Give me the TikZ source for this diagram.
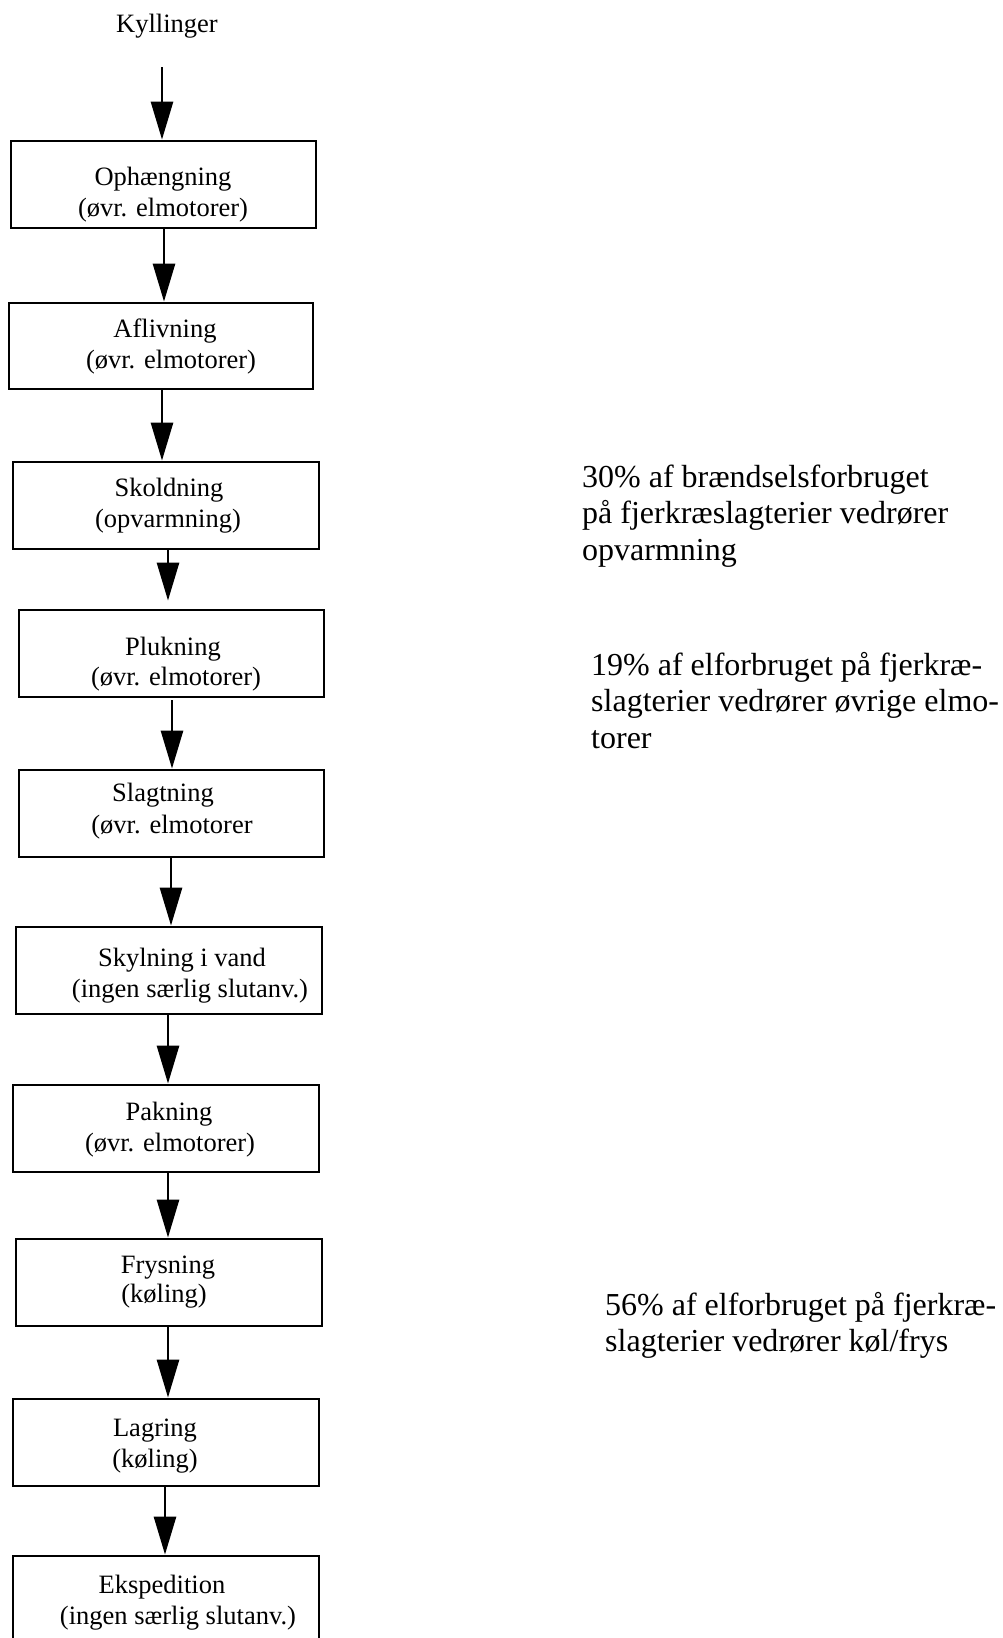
\documentclass[tikz,border=0pt]{standalone}
\usepackage{fontspec}
\setmainfont{Liberation Serif}
\usetikzlibrary{arrows.meta}

\tikzset{
  box/.style={draw, line width=2.8pt, rectangle, inner sep=0pt},
  boxtext/.style={anchor=base, inner sep=0pt, font=\fontsize{26.5pt}{31pt}\selectfont},
  note/.style={anchor=base west, align=left, inner sep=0pt, font=\fontsize{32pt}{36.8pt}\selectfont},
  arr/.style={line width=2.8pt, -{Triangle[length=38pt,width=22pt]}}
}

\begin{document}
\begin{tikzpicture}[x=1pt, y=-1pt]
  \useasboundingbox (0,0) rectangle (1002,1638);
  \clip (0,0) rectangle (1002,1638);

  % process boxes
  \node[box, minimum width=305pt, minimum height=87pt] (b1)  at (163.5,184.5) {};
  \node[box, minimum width=304pt, minimum height=86pt] (b2)  at (161,346)     {};
  \node[box, minimum width=306pt, minimum height=87pt] (b3)  at (166,505.5)   {};
  \node[box, minimum width=305pt, minimum height=87pt] (b4)  at (171.5,653.5) {};
  \node[box, minimum width=305pt, minimum height=87pt] (b5)  at (171.5,813.5) {};
  \node[box, minimum width=306pt, minimum height=87pt] (b6)  at (169,970.5)   {};
  \node[box, minimum width=306pt, minimum height=87pt] (b7)  at (166,1128.5)  {};
  \node[box, minimum width=306pt, minimum height=87pt] (b8)  at (169,1282.5)  {};
  \node[box, minimum width=306pt, minimum height=87pt] (b9)  at (166,1442.5)  {};
  \node[box, minimum width=306pt, minimum height=94pt] (b10) at (166,1603)    {};

  % box captions
  \node[boxtext] (start) at (167,32) {Kyllinger};
  \node[boxtext] (t1a)  at (163,185)  {Ophængning};
  \node[boxtext] (t1b)  at (163,216)  {(øvr. elmotorer)};
  \node[boxtext] (t2a)  at (165,337)  {Aflivning};
  \node[boxtext] (t2b)  at (171,368)  {(øvr. elmotorer)};
  \node[boxtext] (t3a)  at (169,496)  {Skoldning};
  \node[boxtext] (t3b)  at (168,527)  {(opvarmning)};
  \node[boxtext] (t4a)  at (173,655)  {Plukning};
  \node[boxtext] (t4b)  at (176,685)  {(øvr. elmotorer)};
  \node[boxtext] (t5a)  at (163,801)  {Slagtning};
  \node[boxtext] (t5b)  at (172,833)  {(øvr. elmotorer};
  \node[boxtext] (t6a)  at (182,966)  {Skylning i vand};
  \node[boxtext] (t6b)  at (190,997)  {(ingen særlig slutanv.)};
  \node[boxtext] (t7a)  at (169,1120) {Pakning};
  \node[boxtext] (t7b)  at (170,1151) {(øvr. elmotorer)};
  \node[boxtext] (t8a)  at (168,1273) {Frysning};
  \node[boxtext] (t8b)  at (164,1302) {(køling)};
  \node[boxtext] (t9a)  at (155,1436) {Lagring};
  \node[boxtext] (t9b)  at (155,1467) {(køling)};
  \node[boxtext] (t10a) at (162,1593) {Ekspedition};
  \node[boxtext] (t10b) at (178,1624) {(ingen særlig slutanv.)};

  % side notes (anchored at the baseline of their last line)
  \node[note] (n1) at (582,560.6)  {30\% af brændselsforbruget\\på fjerkræslagterier vedrører\\opvarmning};
  \node[note] (n2) at (591,748.6)  {19\% af elforbruget på fjerkræ-\\slagterier vedrører øvrige elmo-\\torer};
  \node[note] (n3) at (605,1351.8) {56\% af elforbruget på fjerkræ-\\slagterier vedrører køl/frys};

  % flow arrows
  \coordinate (in) at (162,67);
  \draw[arr] (in) -- (in |- b1.north);
  \draw[arr] ([xshift=0.5pt]b1.south) -- ([xshift=0.5pt]b1.south |- b2.north);
  \draw[arr] ([xshift=1pt]b2.south)   -- ([xshift=1pt]b2.south |- b3.north);
  \draw[arr] ([xshift=2pt]b3.south)   -- ([xshift=2pt,yshift=8pt]b3.south |- b4.north);
  \draw[arr] ([xshift=0.5pt,yshift=-2pt]b4.south) -- ([xshift=0.5pt]b4.south |- b5.north);
  \draw[arr] ([xshift=-0.5pt]b5.south) -- ([xshift=-0.5pt]b5.south |- b6.north);
  \draw[arr] ([xshift=-1pt]b6.south)  -- ([xshift=-1pt]b6.south |- b7.north);
  \draw[arr] ([xshift=2pt]b7.south)   -- ([xshift=2pt]b7.south |- b8.north);
  \draw[arr] ([xshift=-1pt]b8.south)  -- ([xshift=-1pt]b8.south |- b9.north);
  \draw[arr] ([xshift=-1pt]b9.south)  -- ([xshift=-1pt]b9.south |- b10.north);
\end{tikzpicture}
\end{document}
